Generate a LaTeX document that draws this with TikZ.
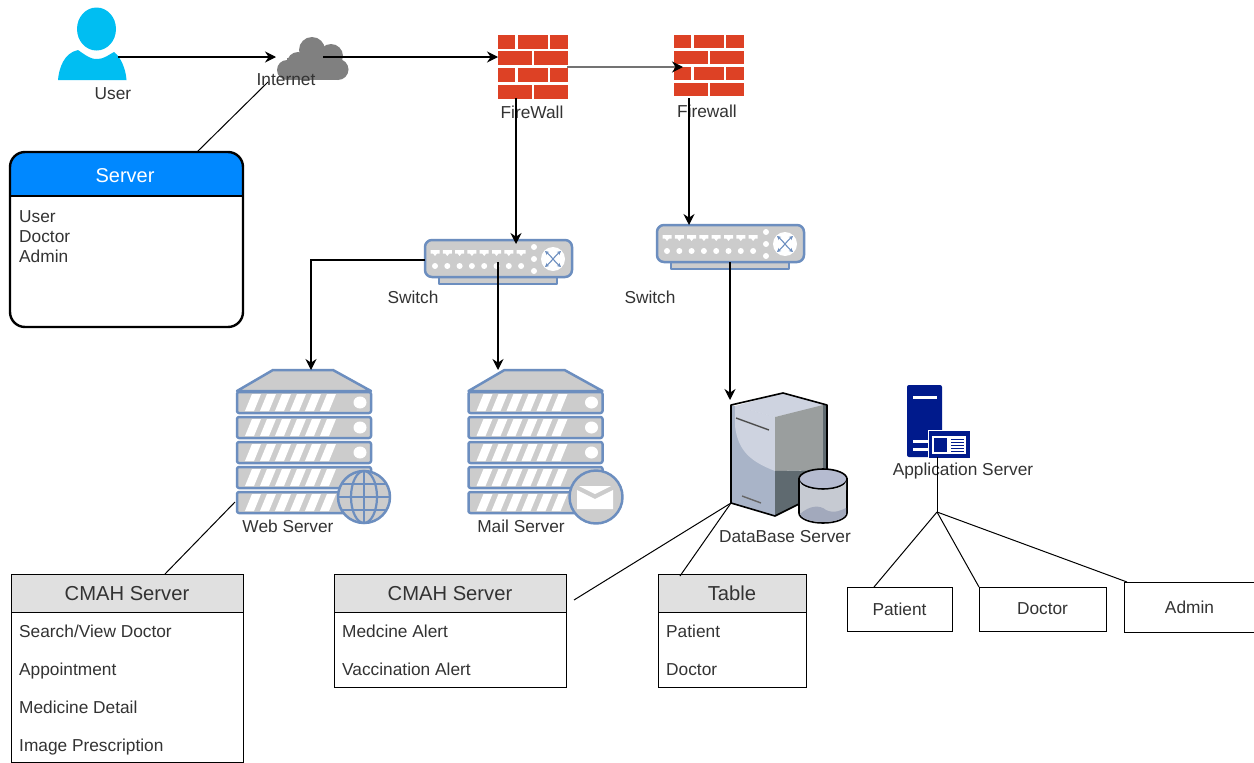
\documentclass[tikz,border=0pt]{standalone}
\usepackage{fontspec}
\setmainfont{Liberation Sans}
\usetikzlibrary{arrows.meta}
\definecolor{icoB}{HTML}{6C8EBF}
\definecolor{icoF}{HTML}{CCCCCC}
\definecolor{brick}{HTML}{DD4125}
\definecolor{txt}{HTML}{333333}
\definecolor{navy}{HTML}{001A8C}
\definecolor{userblue}{HTML}{00BEF2}
\definecolor{hdrblue}{HTML}{0088FF}
\definecolor{dbA}{HTML}{A9B4C8}
\definecolor{dbB}{HTML}{CED3E0}
\definecolor{dbC}{HTML}{9A9E9E}
\definecolor{dbD}{HTML}{5F6A70}
\definecolor{dbE}{HTML}{C6CAD2}
\definecolor{dbF}{HTML}{B5BBD0}
\definecolor{dbG}{HTML}{A2A9BC}
\tikzset{
  x=1pt,y=-1pt,
  lbl/.style={text=txt,font=\fontsize{17.3}{20}\selectfont,inner sep=0pt},
  hdr/.style={text=txt,font=\fontsize{20.2}{24}\selectfont,inner sep=0pt},
  row/.style={text=txt,font=\fontsize{17.3}{20}\selectfont,inner sep=0pt,anchor=base west,yshift=-6pt},
  wire/.style={draw=black,line width=1pt},
  arw/.style={draw=black,line width=1.25pt,-{Stealth[length=11pt,width=11pt]}},
  tbl/.style={draw=black,line width=.95pt,fill=white},
  thd/.style={draw=black,line width=.95pt,fill=black!12},
  ico/.style={draw=icoB,fill=icoF,line width=2.5pt,line join=round},
  bk/.style={fill=brick,draw=brick,line width=.7pt},
}
% firewall: brick rows; args: x, y, row height, row step
\newcommand{\brickwall}[4]{%
  \begin{scope}[shift={(#1,#2)}]
    \foreach \r in {0,1,2,3}{
      \pgfmathsetmacro{\ya}{\r*#4}
      \pgfmathsetmacro{\yb}{\ya+#3}
      \ifodd\r\relax
        \filldraw[bk] (0,\ya) rectangle (33,\yb);
        \filldraw[bk] (36,\ya) rectangle (69,\yb);
      \else
        \filldraw[bk] (0,\ya) rectangle (16,\yb);
        \filldraw[bk] (20,\ya) rectangle (49,\yb);
        \filldraw[bk] (52,\ya) rectangle (69,\yb);
      \fi
    }
  \end{scope}}
% network switch
\newcommand{\netswitch}[2]{%
  \begin{scope}[shift={(#1,#2)}]
    \draw[ico] (14,37) rectangle (132,44);
    \draw[ico,rounded corners=7pt] (0,0) rectangle (147,37);
    \foreach \i in {0,...,7}{
      \fill[white] ({10+12.3*\i-4.5},10) -- ++(9,0) -- ++(0,3.5) -- ++(-2.5,0) -- ++(-2,2.5) -- ++(-2,-2.5) -- ++(-2.5,0) -- cycle;
      \fill[white] ({10+12.3*\i},26) circle (3);
    }
    \foreach \v in {7,19,31}{\fill[white] (109,\v) circle (3);}
    \fill[white] (128,19) circle (12);
    \draw[icoB,line width=1.1pt,{Stealth[length=4pt,width=4pt]}-{Stealth[length=4pt,width=4pt]}] (120,11) .. controls (127,17) and (129,21) .. (136,27);
    \draw[icoB,line width=1.1pt,{Stealth[length=4pt,width=4pt]}-{Stealth[length=4pt,width=4pt]}] (136,11) .. controls (129,17) and (127,21) .. (120,27);
  \end{scope}}
% server rack
\newcommand{\serverrack}[2]{%
  \begin{scope}[shift={(#1,#2)}]
    \draw[ico] (36,0) -- (96,0) -- (134,21) -- (0,21) -- cycle;
    \foreach \yy in {22,47,72,97,122}{
      \draw[ico,rounded corners=2pt] (0,\yy) rectangle (134,\yy+21);
      \foreach \s in {0,...,5}{
        \fill[white] ({8+15*\s},\yy+19) -- ++(9,0) -- ++(7,-17) -- ++(-9,0) -- cycle;
      }
      \fill[white] (123,\yy+10.5) ellipse (6.5 and 6);
    }
  \end{scope}}
\begin{document}
\begin{tikzpicture}
\useasboundingbox (0,0) rectangle (1254,763);
\fill[white] (0,0) rectangle (1254,763);

% ---- user
\node[inner sep=0pt,minimum width=70pt,minimum height=73pt] (usericon) at (92,44) {};
\fill[userblue] (96.5,29) ellipse (19.5 and 21.5);
\fill[userblue] (58,80) .. controls (59,68) and (64,53) .. (78,50)
  .. controls (85,55) and (92,60) .. (98,59) .. controls (104,59) and (110,54) .. (114,52)
  .. controls (121,57) and (126,70) .. (126.5,80) -- cycle;
\node[lbl] (userlbl) at (113,93.5) {User};

% ---- cloud
\node[inner sep=0pt,minimum width=72pt,minimum height=44pt] (cloud) at (313,59) {};
\begin{scope}[black!50]
  \fill (287,70) circle (10);
  \fill (298,63) circle (11);
  \fill (312,50) circle (13);
  \fill (331,56) circle (12);
  \fill (338,69.5) circle (10.5);
  \fill (287,58) rectangle (338,80);
\end{scope}
\node[lbl] (cloudlbl) at (286,79.5) {Internet};

% ---- firewalls
\brickwall{498}{35}{13}{16.7}
\node[inner sep=0pt,minimum width=69pt,minimum height=63pt] (fwa) at (532.5,66.5) {};
\node[lbl] (fwalbl) at (532,112.5) {FireWall};
\brickwall{674.7}{35}{12}{16}
\node[inner sep=0pt,minimum width=69pt,minimum height=60pt] (fwb) at (709,65) {};
\node[lbl] (fwblbl) at (707,111.5) {Firewall};

% ---- switches
\netswitch{425}{240}
\node[inner sep=0pt,minimum width=147pt,minimum height=44pt] (swa) at (498.5,262) {};
\node[lbl] (swalbl) at (413,297.5) {Switch};
\netswitch{657}{225}
\node[inner sep=0pt,minimum width=147pt,minimum height=44pt] (swb) at (730.5,247) {};
\node[lbl] (swblbl) at (650,297.5) {Switch};

% ---- web server
\serverrack{237}{370}
\node[inner sep=0pt,minimum width=134pt,minimum height=143pt] (web) at (304,441.5) {};
\draw[ico,fill=icoF] (364,497) circle (26);
\begin{scope}[icoB,line width=2.2pt]
  \draw (364,471) -- (364,523);
  \draw (364,497) ellipse (13 and 26);
  \draw (338,497) -- (390,497);
  \draw (342,484) -- (386,484);
  \draw (342,510) -- (386,510);
\end{scope}
\node[lbl] (weblbl) at (288,526.5) {Web Server};

% ---- mail server
\serverrack{468.5}{370}
\node[inner sep=0pt,minimum width=134pt,minimum height=143pt] (mail) at (535.5,441.5) {};
\draw[ico,fill=icoF] (596,497) circle (26.5);
\fill[white] (577,490) -- (595,499) -- (613,490) -- (613,509) -- (577,509) -- cycle;
\fill[white] (579,486) -- (611,486) -- (595,494) -- cycle;
\node[lbl] (maillbl) at (521,526.5) {Mail Server};

% ---- database server
\node[inner sep=0pt,minimum width=116pt,minimum height=130pt] (dbs) at (789,458) {};
\fill[dbA] (731,405) -- (775,417) -- (775,516) -- (731,503) -- cycle;
\fill[dbB] (735,406) -- (783,393) -- (827,405) -- (775,417) -- cycle;
\fill[dbB] (735,406) -- (775,417) -- (775,471) .. controls (752,462) and (738,452) .. (735,426) -- cycle;
\fill[dbC] (775,417) -- (823,405) .. controls (826,430) and (824,458) .. (823,470) -- (775,471) -- cycle;
\fill[dbD] (775,471) -- (827,470) -- (827,490) -- (775,516) -- cycle;
\fill[dbD] (823,405) -- (827,405) -- (827,470) -- (823,470) -- cycle;
\draw[black,line width=1.6pt,line join=round] (731,405) -- (783,393) -- (827,405) -- (827,490) -- (775,516) -- (731,503) -- cycle;
\draw[black!70,line width=1.4pt] (736,418) -- (769,430);
\draw[black!60,line width=1.4pt] (742,496) -- (761,503);
\filldraw[fill=dbE,draw=black,line width=1.6pt] (799,479) -- (799,513) arc[start angle=180,end angle=0,x radius=24,y radius=10] -- (847,479) -- cycle;
\filldraw[fill=dbF,draw=black,line width=1.6pt] (823,479) ellipse (24 and 10);
\fill[dbE] (800,481) arc[start angle=180,end angle=0,x radius=23,y radius=9] -- (846,490) -- (800,490) -- cycle;
\fill[dbG] (800,514) .. controls (810,505) and (820,505) .. (826,510) .. controls (834,514) and (842,510) .. (846,508) -- (846,513) arc[start angle=0,end angle=180,x radius=23,y radius=9] -- cycle;
\node[lbl] (dbslbl) at (785,536.5) {DataBase Server};

% ---- application server
\node[inner sep=0pt,minimum width=63pt,minimum height=72pt] (app) at (938.5,421) {};
\fill[navy,rounded corners=2pt] (907,385) rectangle (942,457);
\fill[white] (913,396) rectangle (937,399);
\fill[white] (913,440) rectangle (928,443);
\fill[white] (913,448) rectangle (928,451);
\filldraw[fill=navy,draw=white,line width=.8pt] (928,430) rectangle (970,458);
\fill[white] (932,436) rectangle (966,454);
\fill[navy] (934,438) rectangle (947,452);
\foreach \v in {438.5,441.5,444.5,447.5,450.5}{\fill[navy] (951,\v) rectangle (964,\v+1.5);}
\node[lbl] (applbl) at (963,471.5) {Application Server};

% ---- server table (blue)
\node[inner sep=0pt,minimum width=233pt,minimum height=175pt] (srv) at (126.5,239.5) {};
\begin{scope}
  \clip[rounded corners=15pt] (10,152) rectangle (243,327);
  \fill[hdrblue] (10,152) rectangle (243,196);
\end{scope}
\draw[black,line width=2.4pt,rounded corners=15pt] (10,152) rectangle (243,327);
\draw[black,line width=2pt] (10,196) -- (243,196);
\node[text=white,font=\fontsize{20}{24}\selectfont,inner sep=0pt] (srvh) at (125,175.5) {Server};
\node[row] (srv1) at (19,216) {User};
\node[row] (srv2) at (19,236) {Doctor};
\node[row] (srv3) at (19,256) {Admin};

% ---- CMAH 1
\node[tbl,inner sep=0pt,minimum width=232pt,minimum height=188pt] (cma) at (127,668) {};
\draw[thd] (11,574) rectangle (243,612);
\node[hdr] (cmah) at (127,593.5) {CMAH Server};
\node[row] (cma1) at (19,631) {Search/View Doctor};
\node[row] (cma2) at (19,669) {Appointment};
\node[row] (cma3) at (19,707) {Medicine Detail};
\node[row] (cma4) at (19,745) {Image Prescription};

% ---- CMAH 2
\node[tbl,inner sep=0pt,minimum width=232pt,minimum height=113pt] (cmb) at (450,630.5) {};
\draw[thd] (334,574) rectangle (566,612);
\node[hdr] (cmbh) at (450,593.5) {CMAH Server};
\node[row] (cmb1) at (342,631) {Medcine Alert};
\node[row] (cmb2) at (342,669) {Vaccination Alert};

% ---- Table
\node[tbl,inner sep=0pt,minimum width=148pt,minimum height=113pt] (tab) at (732,630.5) {};
\draw[thd] (658,574) rectangle (806,612);
\node[hdr] (tabh) at (732,593.5) {Table};
\node[row] (tab1) at (666,631) {Patient};
\node[row] (tab2) at (666,669) {Doctor};

% ---- entity boxes
\node[tbl,text=txt,font=\fontsize{17.3}{20}\selectfont,inner sep=0pt,minimum width=105pt,minimum height=44pt] (pat) at (899.5,609) {Patient};
\node[tbl,text=txt,font=\fontsize{17.3}{20}\selectfont,inner sep=0pt,minimum width=127pt,minimum height=44pt] (doc) at (1042.5,609) {Doctor};
\node[tbl,text=txt,font=\fontsize{17.3}{20}\selectfont,inner sep=0pt,minimum width=131pt,minimum height=50pt] (adm) at (1189.5,607) {Admin};

% ---- connection points
\coordinate (cUa) at (118,57);
\coordinate (cCa) at (276,57);
\coordinate (cCb) at (323,57);
\coordinate (cFa) at (498,57);
\coordinate (cSrv) at (197,152);
\coordinate (cCc) at (268,82);
\coordinate (cFb) at (567,67);
\coordinate (cFc) at (683,67);
\coordinate (cFd) at (516,98);
\coordinate (cSa) at (516,244);
\coordinate (cFe) at (689,98);
\coordinate (cSb) at (689,225);
\coordinate (cSc) at (425,260);
\coordinate (cTurn) at (311,260);
\coordinate (cW) at (311,370);
\coordinate (cSd) at (498,262);
\coordinate (cM) at (498,370);
\coordinate (cSe) at (730,262);
\coordinate (cD) at (730,400);
\coordinate (cWb) at (235,502);
\coordinate (cCm) at (165,574);
\coordinate (cDb) at (731,503);
\coordinate (cCn) at (574,600);
\coordinate (cTb) at (680,576);
\coordinate (cAp) at (937,457);
\coordinate (cHub) at (937,512);
\coordinate (cPa) at (874,587);
\coordinate (cDo) at (979,587);
\coordinate (cAd) at (1127,582);

% ---- connectors
\draw[arw] (cUa) -- (cCa);
\draw[arw] (cCb) -- (cFa);
\draw[wire] (cSrv) -- (cCc);
\draw[draw=black!55,line width=2pt,-{Stealth[length=11pt,width=11pt,black]}] (cFb) -- (cFc);
\draw[arw] (cFd) -- (cSa);
\draw[arw] (cFe) -- (cSb);
\draw[arw] (cSc) -- (cTurn) -- (cW);
\draw[arw] (cSd) -- (cM);
\draw[arw] (cSe) -- (cD);
\draw[wire] (cWb) -- (cCm);
\draw[wire] (cDb) -- (cCn);
\draw[wire] (cDb) -- (cTb);
\draw[wire] (cAp) -- (cHub);
\draw[wire] (cHub) -- (cPa);
\draw[wire] (cHub) -- (cDo);
\draw[wire] (cHub) -- (cAd);
\end{tikzpicture}
\end{document}
